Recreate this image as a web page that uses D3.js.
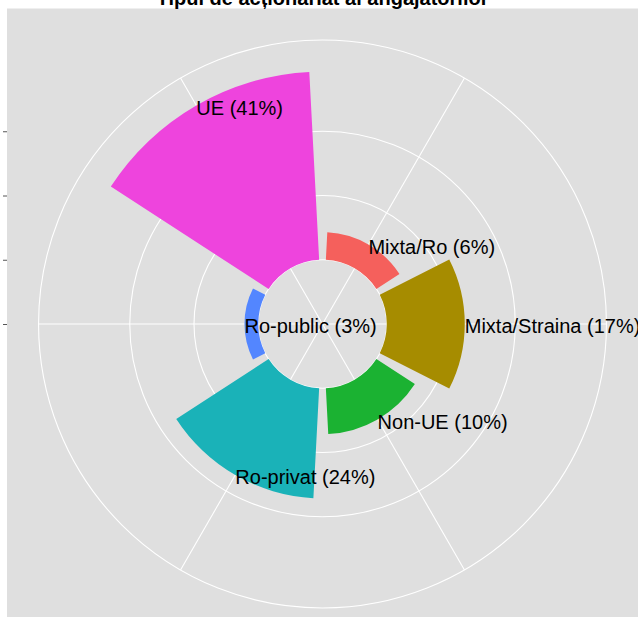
<!DOCTYPE html>
<html>
<head>
<meta charset="utf-8">
<script src="https://cdn.jsdelivr.net/npm/d3@7"></script>
<style>
  html, body { margin: 0; padding: 0; background: #ffffff; }
  svg { display: block; }
</style>
</head>
<body>
<svg id="chart" width="638" height="617"></svg>
<script>
// ---- data ----
const categories = ["Mixta/Ro", "Mixta/Straina", "Non-UE", "Ro-privat", "Ro-public", "UE"];
const values = [6, 17, 10, 24, 3, 41];
const colors = ["#F5605C", "#A68C00", "#1BB232", "#1AB2B8", "#5386FF", "#EE44DD"];
const radialBreaks = [-14, 0, 14, 28];
const yMin = -14;
const title = "Tipul de acționariat al angajatorilor";

// ---- layout ----
const W = 638, H = 617;
const panel = { x: 7, y: 8.5, size: 631 };
const cx = panel.x + panel.size / 2;
const cy = panel.y + panel.size / 2;
const rMax = 0.4 * panel.size;
const rOuter = 0.45 * panel.size;

const svg = d3.select("#chart");

// panel background
svg.append("rect")
  .attr("x", panel.x).attr("y", panel.y)
  .attr("width", panel.size).attr("height", panel.size)
  .attr("fill", "#DFDFDF");

const theta = d3.scaleBand()
  .domain(categories)
  .range([0, 2 * Math.PI])
  .paddingInner(0.1)
  .paddingOuter(0.05);

const r = d3.scaleLinear()
  .domain([yMin, d3.max(values)])
  .range([0, rMax]);

const g = svg.append("g").attr("transform", `translate(${cx},${cy})`);

// grid circles
const gridR = radialBreaks.map(b => r(b)).filter(v => v > 0.5).concat([rOuter]);
g.selectAll("circle.grid")
  .data(gridR)
  .join("circle")
  .attr("class", "grid")
  .attr("r", d => d)
  .attr("fill", "none")
  .attr("stroke", "#ffffff")
  .attr("stroke-width", 1.1);

// spokes
const center = c => theta(c) + theta.bandwidth() / 2;
g.selectAll("line.spoke")
  .data(categories)
  .join("line")
  .attr("class", "spoke")
  .attr("x1", 0).attr("y1", 0)
  .attr("x2", c => rOuter * Math.sin(center(c)))
  .attr("y2", c => -rOuter * Math.cos(center(c)))
  .attr("stroke", "#ffffff")
  .attr("stroke-width", 1.1);

// bars
const data = categories.map((c, i) => ({ cat: c, value: values[i], color: colors[i] }));
const arc = d3.arc()
  .innerRadius(r(0))
  .outerRadius(d => r(d.value))
  .startAngle(d => theta(d.cat))
  .endAngle(d => theta(d.cat) + theta.bandwidth());

g.selectAll("path.bar")
  .data(data)
  .join("path")
  .attr("class", "bar")
  .attr("d", arc)
  .attr("fill", d => d.color);

// labels
g.selectAll("text.lbl")
  .data(data)
  .join("text")
  .attr("class", "lbl")
  .attr("x", d => r(d.value) * Math.sin(center(d.cat)))
  .attr("y", d => -r(d.value) * Math.cos(center(d.cat)))
  .attr("dy", "0.47em")
  .attr("text-anchor", "start")
  .attr("font-family", "'Liberation Sans', Arial, sans-serif")
  .attr("font-size", 20)
  .attr("fill", "#000000")
  .text(d => `${d.cat} (${d.value}%)`);

// radial axis ticks on the left (labels blank)
const yAxisScale = d3.scaleLinear()
  .domain([yMin, d3.max(values)])
  .range([cy, cy - rMax]);
const axis = svg.append("g")
  .attr("transform", `translate(${panel.x},0)`)
  .call(d3.axisLeft(yAxisScale).tickValues(radialBreaks).tickSize(4).tickFormat(() => ""));
axis.select(".domain").remove();
axis.selectAll(".tick line").attr("stroke", "#555555").attr("stroke-width", 1);

// title
svg.append("text")
  .attr("x", cx)
  .attr("y", 4.5)
  .attr("text-anchor", "middle")
  .attr("font-family", "'Liberation Sans', Arial, sans-serif")
  .attr("font-weight", "bold")
  .attr("font-size", 20)
  .attr("fill", "#000000")
  .text(title);
</script>
</body>
</html>
